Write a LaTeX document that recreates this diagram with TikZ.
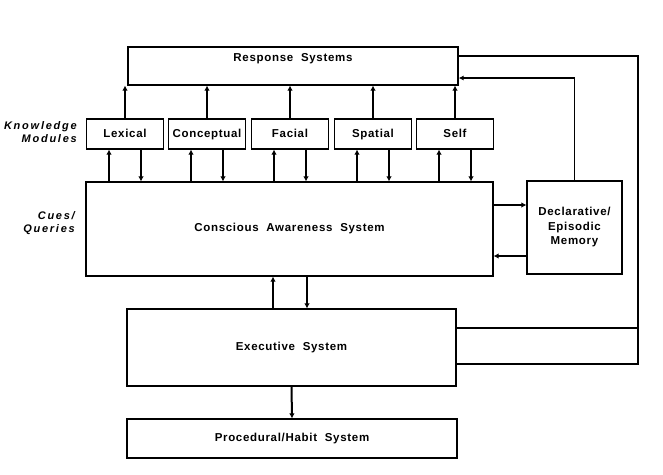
\documentclass[tikz,border=0pt]{standalone}
\usepackage{fontspec}
\newfontfamily\boxfont[LetterSpace=6]{Liberation Sans}
\newfontfamily\sidefont[LetterSpace=16]{Liberation Sans}
\usetikzlibrary{arrows.meta,positioning}
\tikzset{
  box/.style={draw, line width=1.2pt, inner sep=0pt, align=center,
    font=\boxfont\bfseries\fontsize{11.5}{14.5}\selectfont},
  module/.style={box, minimum width=77pt, minimum height=30pt,
    text height=8.5pt, text depth=2.5pt},
  side/.style={anchor=east, align=right, inner sep=0pt,
    font=\sidefont\bfseries\itshape\fontsize{11}{13}\selectfont},
  arr/.style={line width=2pt, -{Latex[length=5pt,width=5.5pt]}},
  thinarr/.style={line width=1.2pt, -{Latex[length=5pt,width=5pt]}},
  loopline/.style={line width=2pt}
}

\begin{document}
\begin{tikzpicture}[x=1pt,y=-1pt]
  \useasboundingbox (0,0) rectangle (663,474);

  % the big boxes
  \node[box, minimum width=330pt, minimum height=38pt,
    label={[anchor=north, inner sep=0pt, yshift=-7pt,
      font=\boxfont\bfseries\fontsize{11.5}{14.5}\selectfont]north:Response\ \ Systems}]
    (resp) at (293,66) {};
  \node[box, minimum width=407pt, minimum height=94pt] (con) at (289.5,229)
    {Conscious\ \ Awareness\ \ System};
  \node[box, minimum width=95pt, minimum height=93pt] (decl) at (574.5,227.5)
    {Declarative/\\Episodic\\Memory};
  \node[box, minimum width=329pt, minimum height=77pt] (exec) at (291.5,347.5)
    {Executive\ \ System};
  \node[box, minimum width=330pt, minimum height=39pt] (proc) at (292,438.5)
    {Procedural/Habit\ \ System};

  \node[side] (knowl) at (77,132) {Knowledge\\Modules};
  \node[side] (cues) at (75,223) {Cues/\\Queries};

  % knowledge modules, each linked up and down
  \foreach \m/\x/\t in {lex/125/Lexical,conc/207/Conceptual,fac/290/Facial,
      spa/373/Spatial,self/455/Self}{
    \node[module] (\m) at (\x,134) {\t};
    \draw[arr] (\m.north) -- (\m.north |- resp.south);
    \coordinate (\m-up) at ([xshift=-16pt]\m.south);
    \coordinate (\m-dn) at ([xshift=16pt]\m.south);
    \draw[arr] (\m-up |- con.north) -- (\m-up);
    \draw[arr] (\m-dn) -- (\m-dn |- con.north);
  }

  % conscious <-> memory
  \draw[arr] (con.east |- 0,205) -- (decl.west |- 0,205);
  \draw[arr] (decl.west |- 0,256) -- (con.east |- 0,256);
  \draw[thinarr] (decl.north) |- (resp.east |- 0,78);

  % conscious <-> executive
  \draw[arr] (273,0 |- exec.north) -- (273,0 |- con.south);
  \draw[arr] (307,0 |- con.south) -- (307,0 |- exec.north);
  \draw[arr] (exec.south) -- (proc.north);

  % outer loop
  \coordinate (corner) at (638,56);
  \draw[loopline] (resp.east |- corner) -- (corner) -- (corner |- 0,364)
    -- (exec.east |- 0,364);
  \draw[loopline] (exec.east |- 0,328) -- (corner |- 0,328);
\end{tikzpicture}
\end{document}
